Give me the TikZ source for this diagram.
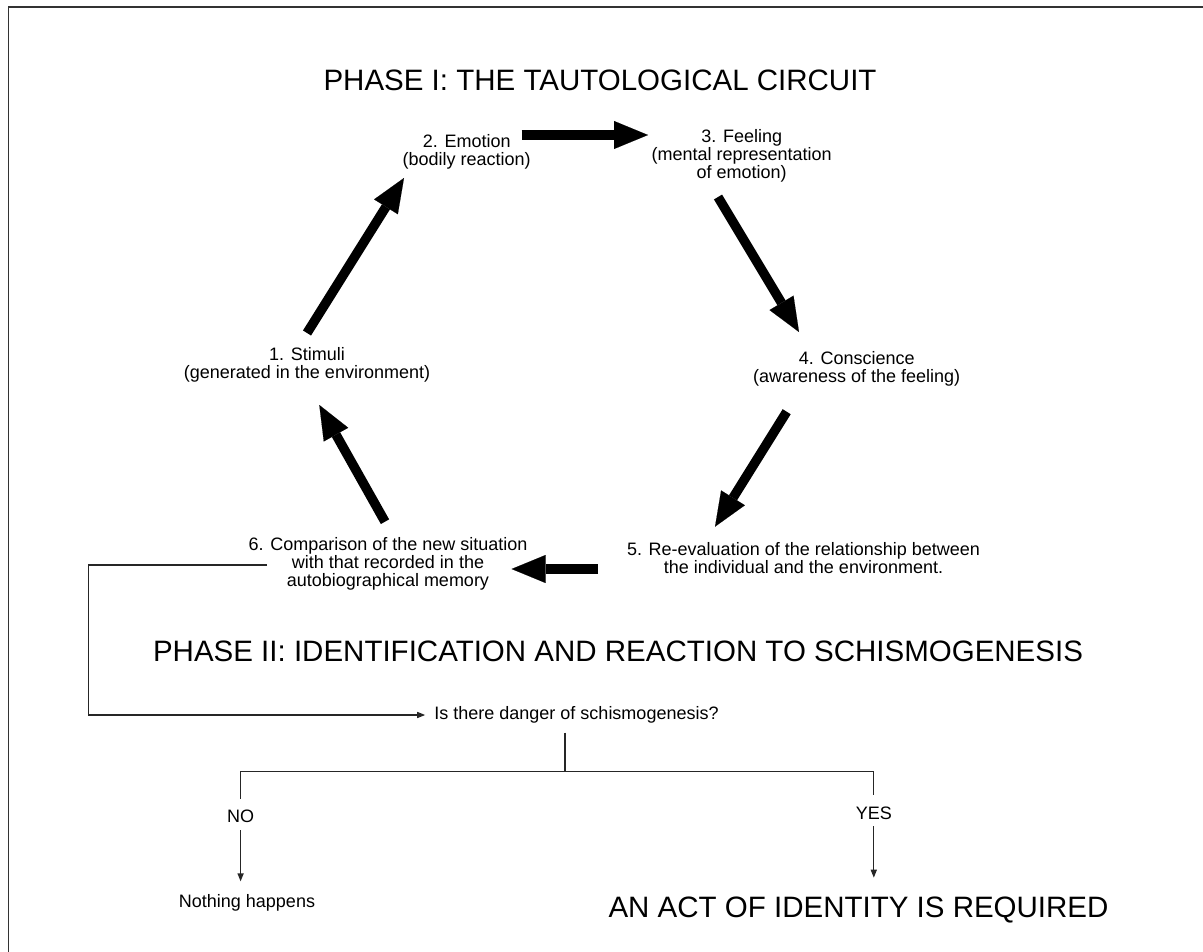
\documentclass[tikz,border=0pt]{standalone}
\usepackage{fontspec}
\setmainfont{Liberation Sans}
\usetikzlibrary{arrows.meta,calc}
\begin{document}
\begin{tikzpicture}[x=1pt,y=-1pt,
  lbl/.style={inner sep=0pt, align=center, font=\fontsize{18}{18.3}\selectfont},
  big/.style={inner sep=0pt, font=\fontsize{29.5}{32}\selectfont},
  bigarrow/.style={line width=9.5pt, -{Triangle[length=34pt,width=28pt,line width=0.1pt]}},
  thinline/.style={line width=1.3pt, draw=black!85},
  thinarrow/.style={thinline, -{Triangle[length=8pt,width=6pt]}},
]
\useasboundingbox (0,0) rectangle (1203,952);
\draw[line width=1.6pt, black!80] (8.5,980) -- (8.5,7) -- (1230,7);

% Phase I
\node[big] (t1) at (600,80) {PHASE I: THE TAUTOLOGICAL CIRCUIT};
\node[lbl] (n2) at (466.7,152) {2. Emotion\\(bodily reaction)};
\node[lbl] (n3) at (741.7,156) {3. Feeling\\(mental representation\\of emotion)};
\node[lbl] (n4) at (856.7,369) {4. Conscience\\(awareness of the feeling)};
\node[lbl] (n5) at (803.5,558) {5. Re-evaluation of the relationship between\\the individual and the environment.};
\node[lbl] (n6) at (388,564) {6. Comparison of the new situation\\with that recorded in the\\autobiographical memory};
\node[lbl] (n1) at (307,365) {1. Stimuli\\(generated in the environment)};

\draw[bigarrow] ($(n1)+(0,-32)$) -- ($(n2)+(-62.7,26)$);
\draw[bigarrow] ($(n2)+(55,-17)$) -- ($(n3)+(-93.7,-21)$);
\draw[bigarrow] ($(n3)+(-23.7,41)$) -- ($(n4)+(-57.7,-37)$);
\draw[bigarrow] ($(n4)+(-70,42.7)$) -- ($(n5)+(-88.5,-31.3)$);
\draw[bigarrow] ($(n5)+(-205.5,11)$) -- ($(n6)+(123.6,5)$);
\draw[bigarrow] ($(n6)+(-3,-42.3)$) -- ($(n1)+(12.3,40)$);

% Phase II
\node[big] (t2) at (618,651.7) {PHASE II: IDENTIFICATION AND REACTION TO SCHISMOGENESIS};
\node[lbl] (q) at (576.5,715) {Is there danger of schismogenesis?};
\coordinate (c6) at (267,565);
\draw[thinarrow] (c6) -- ++(-178.3,0) |- ([xshift=-9pt]q.west);

\coordinate (jt) at (565,732.7);
\coordinate (j) at (565,771.7);
\node[lbl] (no) at (240.6,816.7) {NO};
\node[lbl] (yes) at (873.8,813) {YES};
\node[lbl] (nh) at (247,903) {Nothing happens};
\node[big] (act) at (858.5,910) {AN ACT OF IDENTITY IS REQUIRED};

\draw[thinline] (jt) -- (j);
\draw[thinline, shorten >=11pt] (j) -| (no.north);
\draw[thinline, shorten >=11.5pt] (j) -| (yes.north);
\draw[thinarrow, shorten <=7pt, shorten >=13pt] (no.south) -- (no.south |- nh.north);
\draw[thinarrow, shorten <=6.5pt, shorten >=19pt] (yes.south) -- (yes.south |- act.north);
\end{tikzpicture}
\end{document}
